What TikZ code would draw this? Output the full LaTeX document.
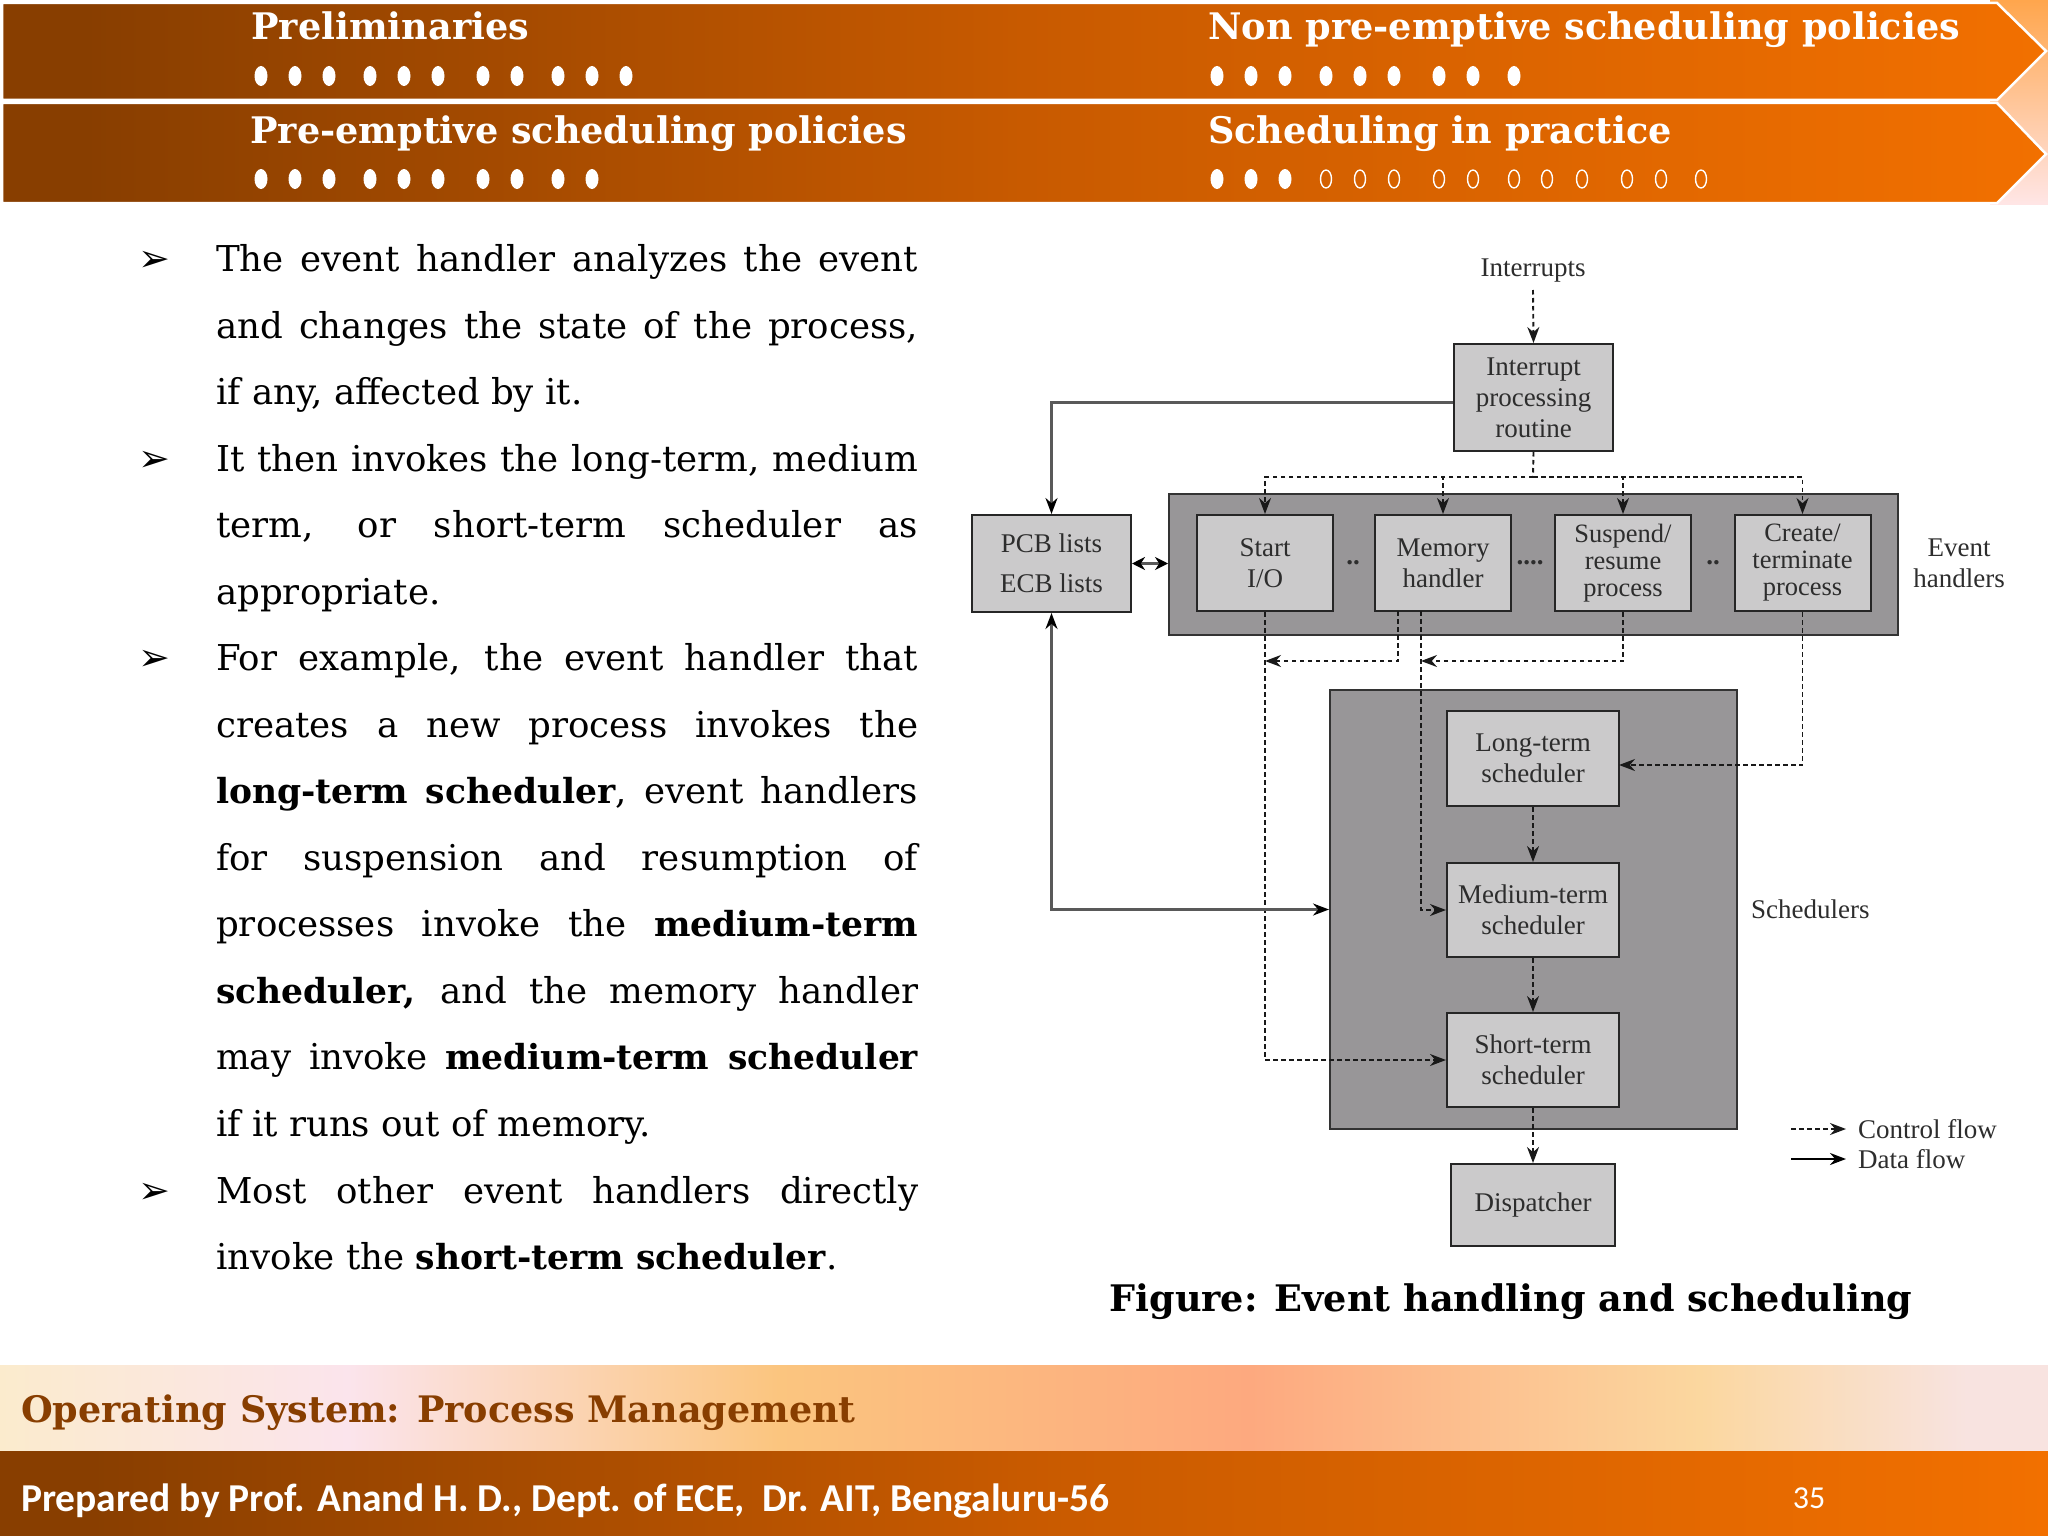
\documentclass[tikz,border=0pt]{standalone}
\usepackage{fontspec}
\setmainfont{Liberation Serif}
\newfontfamily\slabfont{DejaVu Serif}
\newfontfamily\footfont{Carlito}
\newfontfamily\dingfont{DejaVu Sans}
\usetikzlibrary{calc}
\usetikzlibrary{arrows.meta}
\definecolor{rust}{RGB}{136, 62, 0}
\definecolor{burnt}{RGB}{200, 90, 0}
\definecolor{amber}{RGB}{242, 112, 0}
\definecolor{boxgray}{RGB}{203, 202, 203}
\definecolor{panelgray}{RGB}{152, 150, 152}
\definecolor{inkgray}{RGB}{45, 45, 45}
\definecolor{paleone}{RGB}{251, 235, 205}
\definecolor{paletwo}{RGB}{251, 228, 236}
\definecolor{palethree}{RGB}{251, 197, 127}
\definecolor{palefour}{RGB}{253, 169, 127}
\definecolor{palefive}{RGB}{251, 215, 159}
\definecolor{palesix}{RGB}{248, 227, 224}
\pgfdeclarehorizontalshading{bandshade}{100bp}{color(0bp)=(rust); color(27bp)=(rust); color(50bp)=(burnt); color(75bp)=(amber); color(100bp)=(amber)}
\pgfdeclarehorizontalshading{paleshade}{100bp}{color(0bp)=(paleone); color(25bp)=(paleone); color(33.5bp)=(paletwo); color(44bp)=(palethree); color(55.5bp)=(palefour); color(66.5bp)=(palefive); color(73bp)=(palesix); color(100bp)=(palesix)}
\newcommand{\keyterm}[1]{{\bfseries\fontsize{34.5}{66.5}\selectfont #1}}
\tikzset{
  headtext/.style={anchor=base west, inner sep=0pt, text=white, font=\slabfont\bfseries\fontsize{36.6}{42}\selectfont},
  bodytext/.style={anchor=base west, inner sep=0pt, text width=702pt, align=justify, font=\slabfont\fontsize{35.6}{66.5}\selectfont},
  bulletmark/.style={anchor=base west, inner sep=0pt, font=\dingfont\fontsize{38}{42}\selectfont},
  fig/.style={inner sep=0pt, text=inkgray, align=center, font=\fontsize{27}{31}\selectfont},
  tight/.style={font=\fontsize{26.5}{27}\selectfont},
  box/.style={fig, draw=black!85, line width=2pt, fill=boxgray},
  panel/.style={draw=black!80, line width=2pt, fill=panelgray, inner sep=0pt},
  ctrl/.style={draw=black!90, line width=1.9pt, dash pattern=on 4.5pt off 3.5pt, -{Stealth[length=16pt,width=12pt]}},
  ctrlline/.style={draw=black!90, line width=1.9pt, dash pattern=on 4.5pt off 3.5pt},
  dataline/.style={draw=black!65, line width=2.5pt, -{Stealth[length=16pt,width=12pt,black]}},
}
\begin{document}
\begin{tikzpicture}[x=1pt, y=-1pt]
    \useasboundingbox (0,0) rectangle (2048,1536);
    % title bands
    \shade[top color=orange!70!white, bottom color=pink!40!white] (1990,0) rectangle (2048,204);
    \shade[shading=bandshade, draw=white, line width=2.5pt] (2,3) -- (1997,3) -- (2046,51) -- (1997,100) -- (2,100) -- cycle;
    \shade[shading=bandshade, draw=white, line width=2.5pt] (2,103) -- (1997,103) -- (2046,154) -- (1997,203) -- (2,203) -- cycle;
    \node[headtext] (prelim)  at (251,40)   {Preliminaries};
    \node[headtext] (nonpre)  at (1208,40)  {Non pre-emptive scheduling policies};
    \node[headtext] (preempt) at (250,143)  {Pre-emptive scheduling policies};
    \node[headtext] (practice) at (1208,143) {Scheduling in practice};
    \foreach \x in {261,295,329,370,404,438,483,517,558,592,626}
        \fill[white] (\x,76) ellipse (6.5 and 10);
    \foreach \x in {261,295,329,370,404,438,483,517,558,592}
        \fill[white] (\x,179) ellipse (6.5 and 10);
    \foreach \x in {1217,1251,1285,1326,1360,1394,1439,1473,1514}
        \fill[white] (\x,76) ellipse (6.5 and 10);
    \foreach \x in {1217,1251,1285}
        \fill[white] (\x,179) ellipse (6.5 and 10);
    \foreach \x in {1326,1360,1394,1439,1473,1514,1547,1582,1627,1661,1701}
        \draw[white, line width=1.4pt] (\x,179) ellipse (5.5 and 9);
    % text column
    \node[bulletmark] (mark1) at (138,271) {➢};
    \node[bulletmark] (mark2) at (138,471) {➢};
    \node[bulletmark] (mark3) at (138,670.5) {➢};
    \node[bulletmark] (mark4) at (138,1203) {➢};
    \node[bodytext] (para1) at (216,271.5) {The event handler analyzes the event\linebreak
        and changes the state of the process,\linebreak if any, affected by it.};
    \node[bodytext] (para2) at (216,471) {It then invokes the long-term, medium\linebreak
        term, or short-term scheduler as\linebreak appropriate.};
    \node[bodytext] (para3) at (216,670.5) {For example, the event handler that\linebreak
        creates a new process invokes the\linebreak
        \keyterm{long-term scheduler}, event handlers\linebreak
        for suspension and resumption of\linebreak
        processes invoke the \keyterm{medium-term}\linebreak
        \keyterm{scheduler,} and the memory handler\linebreak
        may invoke \keyterm{medium-term scheduler}\linebreak
        if it runs out of memory.};
    \node[bodytext] (para4) at (216,1203) {Most other event handlers directly\linebreak
        invoke the \keyterm{short-term scheduler}.};
    % figure panels
    \node[panel, minimum width=729pt, minimum height=141pt] (handlers) at (1533.5,564.5) {};
    \node[panel, minimum width=407pt, minimum height=439pt] (scheds) at (1533.5,909.5) {};
    % figure boxes
    \node[fig] (interrupts) at (1533,271) {Interrupts};
    \node[box, minimum width=159pt, minimum height=107pt] (isr) at (1533.5,397.5) {Interrupt\\processing\\routine};
    \node[box, minimum width=159pt, minimum height=97pt] (pcb) at (1051.5,563.5) {PCB lists\\[9pt]ECB lists};
    \node[box, minimum width=136pt, minimum height=96pt] (start) at (1265,563) {Start\\I/O};
    \node[box, minimum width=136pt, minimum height=96pt] (memory) at (1443,563) {Memory\\handler};
    \node[box, tight, minimum width=136pt, minimum height=96pt] (suspend) at (1623,563) {Suspend/\\resume\\process};
    \node[box, tight, minimum width=136pt, minimum height=96pt] (create) at (1802.5,563) {Create/\\terminate\\process};
    \node[box, minimum width=172pt, minimum height=95pt] (longterm) at (1533,758.5) {Long-term\\scheduler};
    \node[box, minimum width=172pt, minimum height=94pt] (medium) at (1533,910) {Medium-term\\scheduler};
    \node[box, minimum width=172pt, minimum height=94pt] (short) at (1533,1060) {Short-term\\scheduler};
    \node[box, minimum width=164pt, minimum height=82pt] (dispatch) at (1533,1205) {Dispatcher};
    \node[fig] (dots1) at (1353,563) {\textbf{..}};
    \node[fig] (dots2) at (1530,563) {\textbf{....}};
    \node[fig] (dots3) at (1713,563) {\textbf{..}};
    \node[fig] (evlabel) at (1959,563) {Event\\handlers};
    \node[fig, anchor=west] (schedlabel) at (1751,909) {Schedulers};
    \node[fig, anchor=west] (ctrllabel) at (1858,1129) {Control flow};
    \node[fig, anchor=west] (datalabel) at (1858,1159) {Data flow};
    % control flow
    \coordinate (intop) at (1533,290);
    \coordinate (bus) at (1533,477);
    \coordinate (memleft) at (1398,611);
    \coordinate (memright) at (1421,611);
    \coordinate (turn) at (1421,661);
    \coordinate (createin) at (1619,765);
    \draw[ctrl] (intop) -- (isr.north);
    \draw[ctrlline] (isr.south) -- (bus);
    \draw[ctrl] (bus) -| (start.north);
    \draw[ctrl] (bus) -| (memory.north);
    \draw[ctrl] (bus) -| (suspend.north);
    \draw[ctrl] (bus) -| (create.north);
    \draw[ctrl] (start.south) |- (short.west);
    \draw[ctrl] (memleft) |- (turn -| start.south);
    \draw[ctrl] (suspend.south) |- (turn);
    \draw[ctrl] (memright) |- (medium.west);
    \draw[ctrl] (create.south) |- (createin);
    \draw[ctrl] (longterm.south) -- (medium.north);
    \draw[ctrl] (medium.south) -- (short.north);
    \draw[ctrl] (short.south) -- (dispatch.north);
    % data flow
    \draw[dataline] ([yshift=-5pt]isr.west) -| (pcb.north);
    \draw[dataline, {Stealth[length=16pt,width=12pt,black]}-{Stealth[length=16pt,width=12pt,black]}] (pcb.south) |- (scheds.west);
    \draw[dataline, line width=3pt, {Stealth[length=13pt,width=13pt,black]}-{Stealth[length=13pt,width=13pt,black]}] (pcb.east) -- (handlers.west |- pcb.east);
    % legend
    \coordinate (ctrlstart) at (1791,1129);
    \coordinate (datastart) at (1791,1159);
    \draw[ctrl] (ctrlstart) -- ([xshift=-12pt]ctrllabel.west);
    \draw[dataline, draw=black] (datastart) -- ([xshift=-12pt]datalabel.west);
    % caption and foot
    \node[anchor=base, inner sep=0pt, text=black, font=\slabfont\bfseries\fontsize{36.6}{42}\selectfont] (caption) at (1511,1311) {Figure: Event handling and scheduling};
    \shade[shading=paleshade] (0,1365) rectangle (2048,1451);
    \shade[shading=bandshade] (0,1451) rectangle (2048,1536);
    \node[anchor=base west, inner sep=0pt, text=rust, font=\slabfont\bfseries\fontsize{36.5}{42}\selectfont] (course) at (21,1422) {Operating System: Process Management};
    \node[anchor=base west, inner sep=0pt, text=white, font=\footfont\bfseries\fontsize{39.5}{44}\selectfont] (author) at (21,1511) {Prepared by Prof. Anand H. D., Dept. of ECE,\ \ Dr. AIT, Bengaluru-56};
    \node[anchor=base, inner sep=0pt, text=white, font=\footfont\fontsize{32}{36}\selectfont] (pagenum) at (1809,1508) {35};
\end{tikzpicture}
\end{document}
